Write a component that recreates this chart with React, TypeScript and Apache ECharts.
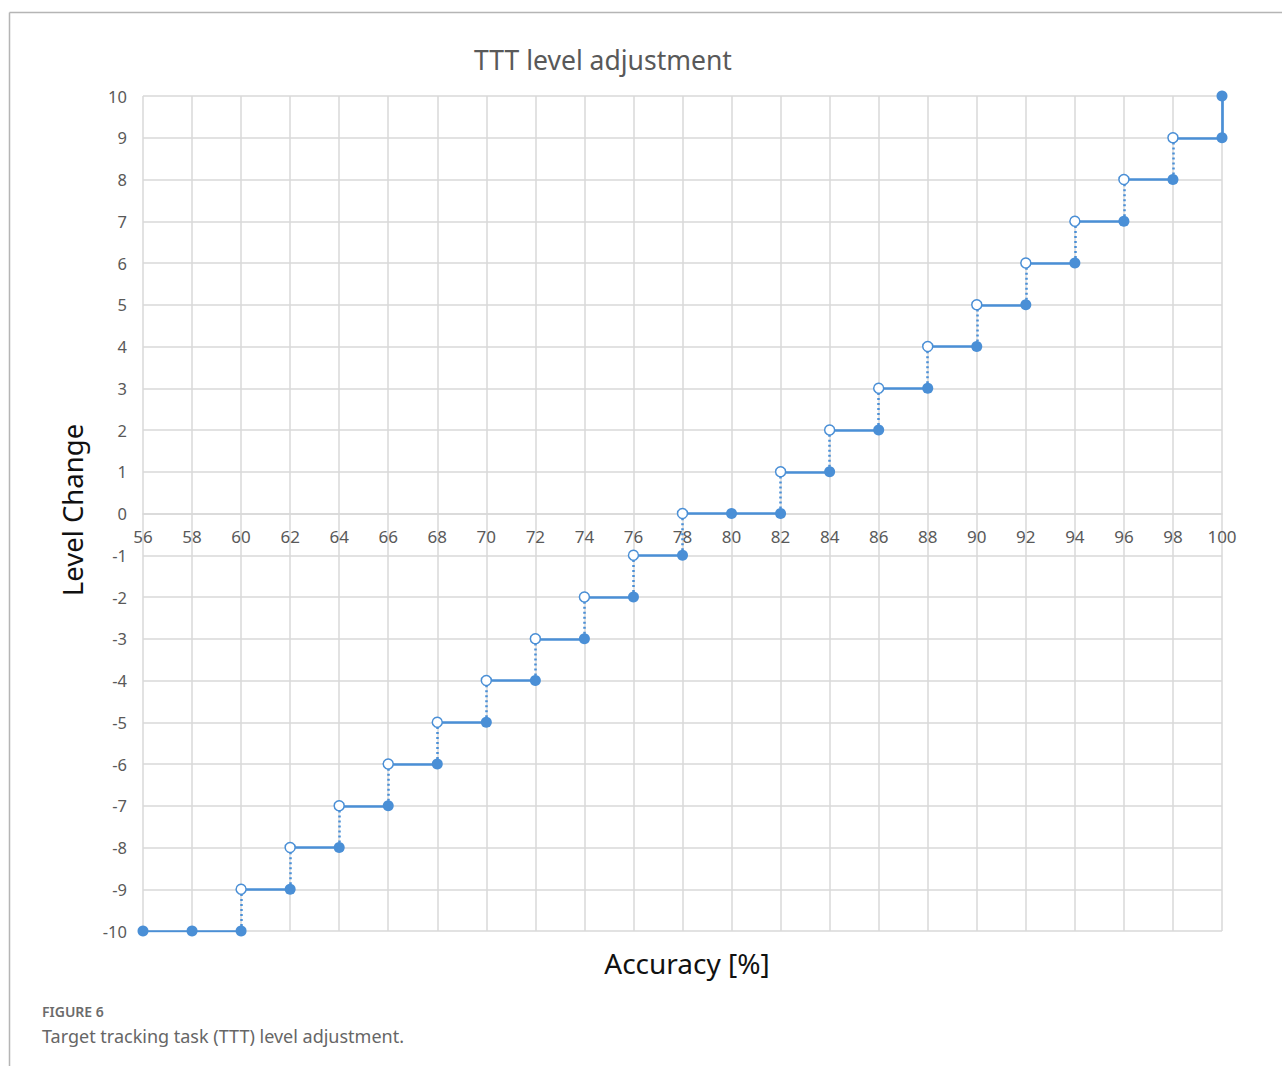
import React, { useEffect, useRef } from "react";
import * as echarts from "echarts";

// Filled markers (value reached at that accuracy)
const filledX = [56, 58, 60, 62, 64, 66, 68, 70, 72, 74, 76, 78, 80, 82, 84, 86, 88, 90, 92, 94, 96, 98, 100, 100];
const filledY = [-10, -10, -10, -9, -8, -7, -6, -5, -4, -3, -2, -1, 0, 0, 1, 2, 3, 4, 5, 6, 7, 8, 9, 10];
// Open markers (start of next level, exclusive)
const openX = [60, 62, 64, 66, 68, 70, 72, 74, 76, 78, 82, 84, 86, 88, 90, 92, 94, 96, 98];
const openY = [-9, -8, -7, -6, -5, -4, -3, -2, -1, 0, 1, 2, 3, 4, 5, 6, 7, 8, 9];

const xTicks = { min: 56, max: 100, interval: 2 };
const yTicks = { min: -10, max: 10, interval: 1 };

const BLUE = "#4a8fd6";
const GRID = "#d9d9d9";
const TEXT = "#595959";
const FONT = "'Noto Sans', 'Open Sans', sans-serif";

function buildSegments() {
  const solid: number[][][] = [];
  const dotted: number[][][] = [];
  const pts = [
    ...filledX.map((x, i) => ({ x, y: filledY[i], filled: true })),
    ...openX.map((x, i) => ({ x, y: openY[i], filled: false })),
  ];
  const levels = Array.from(new Set(pts.map((p) => p.y)));
  levels.forEach((lv) => {
    const xs = pts.filter((p) => p.y === lv).map((p) => p.x);
    const lo = Math.min(...xs);
    const hi = Math.max(...xs);
    if (hi > lo) solid.push([[lo, lv], [hi, lv]]);
  });
  const fx = Array.from(new Set(filledX));
  fx.forEach((x) => {
    const ys = filledX.map((v, i) => (v === x ? filledY[i] : null)).filter((v) => v !== null) as number[];
    if (ys.length > 1) {
      const lo = Math.min(...ys);
      const hi = Math.max(...ys);
      if (hi > lo) solid.push([[x, lo], [x, hi]]);
    }
  });
  openX.forEach((x, i) => {
    dotted.push([[x, openY[i] - 1], [x, openY[i]]]);
  });
  return { solid, dotted };
}

export default function App() {
  const ref = useRef<HTMLDivElement>(null);
  useEffect(() => {
    document.body.style.margin = "0";
    if (!ref.current) return;
    const chart = echarts.init(ref.current, null, { renderer: "svg" });
    const { solid, dotted } = buildSegments();
    const gridTop = 96;
    const gridBottom = 135;
    const plotH = 1066 - gridTop - gridBottom;
    const zeroOffset = -plotH * ((0 - yTicks.min) / (yTicks.max - yTicks.min));
    chart.setOption({
      animation: false,
      backgroundColor: "#ffffff",
      graphic: [
        { type: "line", shape: { x1: 9.5, y1: 12.5, x2: 1282, y2: 12.5 }, style: { stroke: "#b5b5b5", lineWidth: 1.5 } },
        { type: "line", shape: { x1: 9.5, y1: 12.5, x2: 9.5, y2: 1066 }, style: { stroke: "#b5b5b5", lineWidth: 1.5 } },
        {
          type: "text",
          x: 603,
          y: 60,
          style: { text: "TTT level adjustment", fontFamily: FONT, fontSize: 26.5, fill: TEXT, align: "center", verticalAlign: "middle" },
        },
        {
          type: "text",
          x: 72,
          y: 510,
          rotation: Math.PI / 2,
          style: { text: "Level Change", fontFamily: FONT, fontSize: 27.5, fill: "#111", align: "center", verticalAlign: "middle" },
        },
        {
          type: "text",
          x: 687,
          y: 963,
          style: { text: "Accuracy [%]", fontFamily: FONT, fontSize: 28, fill: "#111", align: "center", verticalAlign: "middle" },
        },
        {
          type: "text",
          x: 42,
          y: 1011,
          style: { text: "FIGURE 6", fontFamily: FONT, fontSize: 14, fontWeight: 600, fill: "#6b6b6b", align: "left", verticalAlign: "middle" },
        },
        {
          type: "text",
          x: 42,
          y: 1036,
          style: { text: "Target tracking task (TTT) level adjustment.", fontFamily: FONT, fontSize: 18, fill: "#666", align: "left", verticalAlign: "middle" },
        },
      ],
      grid: { left: 143, right: 60, top: gridTop, bottom: gridBottom, containLabel: false },
      xAxis: {
        type: "value",
        min: xTicks.min,
        max: xTicks.max,
        interval: xTicks.interval,
        offset: zeroOffset,
        axisLine: { show: true, onZero: false, lineStyle: { color: GRID, width: 1.5 } },
        axisTick: { show: false },
        axisLabel: { color: TEXT, fontFamily: FONT, fontSize: 17, margin: 14 },
        splitLine: { show: true, lineStyle: { color: GRID, width: 1.5 } },
      },
      yAxis: {
        type: "value",
        min: yTicks.min,
        max: yTicks.max,
        interval: yTicks.interval,
        axisLine: { show: false },
        axisTick: { show: false },
        axisLabel: { color: TEXT, fontFamily: FONT, fontSize: 16.5, margin: 16 },
        splitLine: { show: true, lineStyle: { color: GRID, width: 1.5 } },
      },
      series: [
        {
          type: "lines",
          coordinateSystem: "cartesian2d",
          data: solid.map((c) => ({ coords: c })),
          lineStyle: { color: BLUE, width: 2.7, type: "solid", opacity: 1 },
          z: 2,
        },
        {
          type: "lines",
          coordinateSystem: "cartesian2d",
          data: dotted.map((c) => ({ coords: c })),
          lineStyle: { color: BLUE, width: 2.5, type: [2, 3], opacity: 1 },
          z: 2,
        },
        {
          type: "scatter",
          data: filledX.map((x, i) => [x, filledY[i]]),
          symbol: "circle",
          symbolSize: 11,
          itemStyle: { color: BLUE, opacity: 1 },
          z: 3,
        },
        {
          type: "scatter",
          data: openX.map((x, i) => [x, openY[i]]),
          symbol: "circle",
          symbolSize: 10,
          itemStyle: { color: "#ffffff", borderColor: BLUE, borderWidth: 1.5, opacity: 1 },
          z: 4,
        },
      ],
    });
    return () => chart.dispose();
  }, []);
  return <div ref={ref} style={{ width: 1282, height: 1066 }} />;
}
